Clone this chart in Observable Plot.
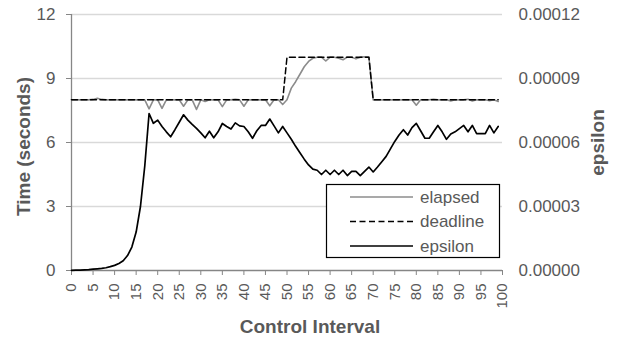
<!DOCTYPE html>
<html>
<head>
<meta charset="utf-8">
<script src="https://cdn.jsdelivr.net/npm/d3@7"></script>
<script src="https://cdn.jsdelivr.net/npm/@observablehq/plot@0.6"></script>
<style>
  html, body { margin: 0; padding: 0; background: #fff; }
  svg { display: block; }
</style>
</head>
<body>
<div id="chart"></div>
<script>
// ---- data ----
const seriesNames = ["elapsed", "deadline", "epsilon"];

const elapsed = [
  8, 8, 8, 8, 8,
  8.02, 8.07, 8.02, 8, 8,
  8, 8, 8, 8, 8,
  8, 8, 8, 7.58, 8,
  8, 7.6, 8, 8, 8,
  8, 7.7, 8, 8, 7.55,
  8, 7.92, 8, 8, 8,
  7.68, 8, 8, 8.02, 8,
  7.7, 8, 8, 8, 8,
  8, 7.72, 8, 8, 7.78,
  8, 8.55, 8.85, 9.2, 9.55,
  9.8, 9.95, 10, 10, 9.82,
  10, 10, 9.95, 9.88, 10,
  10, 9.92, 10, 10.02, 10,
  8, 8, 8, 8, 8,
  8, 8, 8, 8, 8,
  7.75, 8, 8, 8, 8.03,
  8, 8, 8, 7.95, 8,
  8, 8, 8.03, 7.95, 8,
  8, 8, 7.96, 8, 7.92
];

const deadline = [
  8, 8, 8, 8, 8, 8, 8, 8, 8, 8,
  8, 8, 8, 8, 8, 8, 8, 8, 8, 8,
  8, 8, 8, 8, 8, 8, 8, 8, 8, 8,
  8, 8, 8, 8, 8, 8, 8, 8, 8, 8,
  8, 8, 8, 8, 8, 8, 8, 8, 8, 8,
  10, 10, 10, 10, 10, 10, 10, 10, 10, 10,
  10, 10, 10, 10, 10, 10, 10, 10, 10, 10,
  8, 8, 8, 8, 8, 8, 8, 8, 8, 8,
  8, 8, 8, 8, 8, 8, 8, 8, 8, 8,
  8, 8, 8, 8, 8, 8, 8, 8, 8, 8
];

const epsilon = [
  0.01e-5, 0.015e-5, 0.02e-5, 0.03e-5, 0.04e-5,
  0.06e-5, 0.08e-5, 0.10e-5, 0.13e-5, 0.18e-5,
  0.24e-5, 0.33e-5, 0.46e-5, 0.70e-5, 1.10e-5,
  1.80e-5, 3.00e-5, 4.90e-5, 7.36e-5, 6.90e-5,
  7.05e-5, 6.75e-5, 6.50e-5, 6.27e-5, 6.60e-5,
  6.95e-5, 7.30e-5, 7.05e-5, 6.85e-5, 6.66e-5,
  6.45e-5, 6.22e-5, 6.53e-5, 6.22e-5, 6.50e-5,
  6.89e-5, 6.75e-5, 6.63e-5, 6.92e-5, 6.78e-5,
  6.75e-5, 6.50e-5, 6.20e-5, 6.55e-5, 6.80e-5,
  6.80e-5, 7.10e-5, 6.78e-5, 6.45e-5, 6.75e-5,
  6.45e-5, 6.15e-5, 5.82e-5, 5.52e-5, 5.22e-5,
  4.95e-5, 4.75e-5, 4.70e-5, 4.50e-5, 4.70e-5,
  4.50e-5, 4.70e-5, 4.50e-5, 4.70e-5, 4.45e-5,
  4.65e-5, 4.65e-5, 4.45e-5, 4.65e-5, 4.85e-5,
  4.62e-5, 4.85e-5, 5.10e-5, 5.35e-5, 5.70e-5,
  6.05e-5, 6.35e-5, 6.60e-5, 6.35e-5, 6.70e-5,
  6.90e-5, 6.55e-5, 6.20e-5, 6.20e-5, 6.50e-5,
  6.80e-5, 6.50e-5, 6.15e-5, 6.40e-5, 6.50e-5,
  6.65e-5, 6.80e-5, 6.50e-5, 6.80e-5, 6.42e-5,
  6.42e-5, 6.42e-5, 6.80e-5, 6.45e-5, 6.75e-5
];

const xTicks = [0, 5, 10, 15, 20, 25, 30, 35, 40, 45, 50, 55, 60, 65, 70, 75, 80, 85, 90, 95, 100];
const timeTicks = [0, 3, 6, 9, 12];
const epsTicks = [0, 0.00003, 0.00006, 0.00009, 0.00012];

const xLabel = "Control Interval";
const yLabel = "Time (seconds)";
const y2Label = "epsilon";

// ---- build ----
const epsScale = timeTicks[timeTicks.length - 1] / epsTicks[epsTicks.length - 1];
const rows = elapsed.map((v, i) => ({i, elapsed: v, deadline: deadline[i], eps: epsilon[i] * epsScale}));

const FONT = "'Liberation Sans', Arial, sans-serif";
const TXT = "#595959";
const AXIS = "#868686";
const GRID = "#d9d9d9";

const W = 618, H = 339;
const mL = 71, mR = 116, mT = 14, mB = 69;

const plot = Plot.plot({
  width: W,
  height: H,
  marginLeft: mL,
  marginRight: mR,
  marginTop: mT,
  marginBottom: mB,
  style: {fontFamily: FONT, background: "#fff", color: TXT, overflow: "visible"},
  x: {domain: [0, 100], label: null},
  y: {domain: [0, 12], label: null},
  marks: [
    Plot.gridY(timeTicks.slice(1), {stroke: GRID, strokeOpacity: 1, strokeWidth: 1.3}),
    // left axis ticks and labels
    Plot.axisY({ticks: timeTicks, tickSize: 5, stroke: AXIS, tickFormat: () => "", label: null}),
    Plot.axisY({ticks: timeTicks, tickSize: 0, tickPadding: 16, fill: TXT, fontSize: 17, label: null}),
    // right axis labels (epsilon)
    Plot.axisY({anchor: "right", ticks: epsTicks.map(e => e * epsScale), tickSize: 0, tickPadding: 16,
      fill: TXT, fontSize: 17, label: null, textAnchor: "start",
      tickFormat: d => (d / epsScale).toFixed(5)}),
    // x axis ticks and labels
    Plot.axisX({ticks: xTicks, tickSize: 5, stroke: AXIS, tickFormat: () => "", label: null}),
    Plot.axisX({ticks: xTicks, tickSize: 0, tickPadding: 13, tickRotate: -90, fill: TXT, fontSize: 15, label: null}),
    Plot.ruleX([0], {stroke: AXIS, strokeWidth: 1.3}),
    Plot.ruleY([0], {stroke: AXIS, strokeWidth: 1.3}),
    // series
    Plot.line(rows, {x: "i", y: "elapsed", stroke: "#8c8c8c", strokeWidth: 1.6}),
    Plot.line(rows, {x: "i", y: "deadline", stroke: "#000", strokeWidth: 1.5, strokeDasharray: "6,3.5"}),
    Plot.line(rows, {x: "i", y: "eps", stroke: "#000", strokeWidth: 1.7}),
    // axis titles
    Plot.text([yLabel], {frameAnchor: "left", textAnchor: "middle", dx: -48, dy: 4, rotate: -90, text: d => d,
      fontSize: 19, fontWeight: "bold", fill: TXT}),
    Plot.text([y2Label], {frameAnchor: "right", textAnchor: "middle", dx: 95, dy: 0, rotate: -90, text: d => d,
      fontSize: 19, fontWeight: "bold", fill: TXT}),
    Plot.text([xLabel], {frameAnchor: "bottom", textAnchor: "middle", dx: 23, dy: 62, text: d => d,
      fontSize: 19, fontWeight: "bold", fill: TXT})
  ]
});

// ---- legend (layout only) ----
const svg = d3.select(plot);
const lg = svg.append("g").attr("font-family", FONT).attr("font-size", 17).attr("text-anchor", "start");
lg.append("rect").attr("x", 326.5).attr("y", 184.5).attr("width", 173).attr("height", 73)
  .attr("fill", "#fff").attr("stroke", "#000").attr("stroke-width", 1.2);
const styles = {
  elapsed: {stroke: "#8c8c8c", width: 1.6, dash: null},
  deadline: {stroke: "#000", width: 1.5, dash: "6,3.5"},
  epsilon: {stroke: "#000", width: 1.7, dash: null}
};
seriesNames.forEach((name, k) => {
  const yy = 197 + k * 24.5;
  const s = styles[name];
  const ln = lg.append("line").attr("x1", 350).attr("x2", 413).attr("y1", yy).attr("y2", yy)
    .attr("stroke", s.stroke).attr("stroke-width", s.width);
  if (s.dash) ln.attr("stroke-dasharray", s.dash);
  lg.append("text").attr("x", 420).attr("y", yy).attr("dy", "0.35em").attr("fill", TXT)
    .attr("text-anchor", "start").text(name);
});

document.getElementById("chart").appendChild(plot);
</script>
</body>
</html>
